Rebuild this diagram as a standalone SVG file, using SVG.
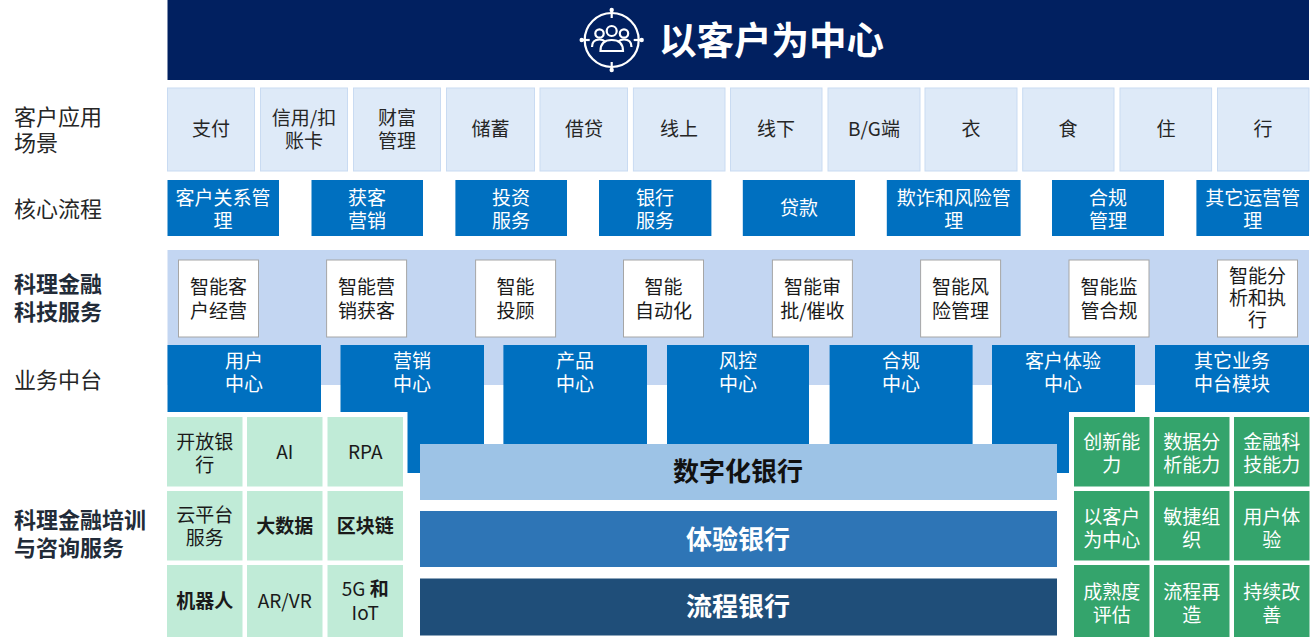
<svg xmlns="http://www.w3.org/2000/svg" width="1314" height="641" viewBox="0 0 1314 641">
<style>
text{font-family:"Noto Sans CJK SC","Noto Sans",sans-serif;text-anchor:middle}
.lbl{font-size:22px;fill:#262626;text-anchor:start}
.lblb{font-size:22px;font-weight:bold;fill:#222B38;text-anchor:start}
.scn{fill:#DEEAF8;stroke:#C9DBF2;stroke-width:1}
.scnt{font-size:19px;fill:#262626}
.core{fill:#0070C0}
.wt{font-size:19px;fill:#FFFFFF}
.fin{fill:#FFFFFF;stroke:#A6A6A6;stroke-width:1}
.fint{font-size:19px;fill:#1A1A1A}
.lg{fill:#C0EBD7}
.lgt{font-size:19px;fill:#1A1A1A}
.dg{fill:#34A46C}
.bar{font-size:26px;font-weight:bold}
.ic{fill:none;stroke:#FFFFFF;stroke-width:2.2}
</style>

<g id="header">
<rect x="167.5" y="0" width="1141.5" height="80" fill="#012060"/>
<g id="icon">
<circle class="ic" cx="611.7" cy="40" r="27"/>
<line class="ic" x1="611.7" y1="9" x2="611.7" y2="18"/>
<line class="ic" x1="611.7" y1="62" x2="611.7" y2="71"/>
<line class="ic" x1="580.7" y1="40" x2="589.7" y2="40"/>
<line class="ic" x1="633.7" y1="40" x2="642.7" y2="40"/>
<circle cx="611.7" cy="10" r="2.2" fill="#FFFFFF"/>
<circle cx="611.7" cy="70" r="2.2" fill="#FFFFFF"/>
<circle cx="581.7" cy="40" r="2.2" fill="#FFFFFF"/>
<circle cx="641.7" cy="40" r="2.2" fill="#FFFFFF"/>
<circle class="ic" cx="611.7" cy="31" r="5"/>
<circle class="ic" cx="599.5" cy="33.5" r="4.2"/>
<circle class="ic" cx="624" cy="33.5" r="4.2"/>
<path class="ic" d="M600.5 51 Q600.5 40 611.7 40 Q623 40 623 51 Z"/>
<path class="ic" d="M592 47 Q592 39.5 599.5 39.5 Q603 39.5 605 41.5"/>
<path class="ic" d="M631.5 47 Q631.5 39.5 624 39.5 Q620.5 39.5 618.5 41.5"/>
</g>
<text x="771.5" y="54" style="font-size:37.5px;font-weight:bold;fill:#FFFFFF">以客户为中心</text>
</g>

<g id="left-labels">
<text class="lbl" x="14" y="125">客户应用</text>
<text class="lbl" x="14" y="151">场景</text>
<text class="lbl" x="14" y="217">核心流程</text>
<text class="lblb" x="14" y="292">科理金融</text>
<text class="lblb" x="14" y="320">科技服务</text>
<text class="lbl" x="14" y="388">业务中台</text>
<text class="lblb" x="14" y="528">科理金融培训</text>
<text class="lblb" x="14" y="556">与咨询服务</text>
</g>

<g id="scenarios">
<g id="s1"><rect class="scn" x="167.5" y="88" width="87" height="83"/><text class="scnt" x="211" y="136">支付</text></g>
<g id="s2"><rect class="scn" x="260.5" y="88" width="87" height="83"/><text class="scnt" x="304" y="125">信用/扣</text><text class="scnt" x="304" y="148">账卡</text></g>
<g id="s3"><rect class="scn" x="353.5" y="88" width="87" height="83"/><text class="scnt" x="397" y="125">财富</text><text class="scnt" x="397" y="148">管理</text></g>
<g id="s4"><rect class="scn" x="446.5" y="88" width="88" height="83"/><text class="scnt" x="490.5" y="136">储蓄</text></g>
<g id="s5"><rect class="scn" x="540" y="88" width="87.5" height="83"/><text class="scnt" x="584" y="136">借贷</text></g>
<g id="s6"><rect class="scn" x="633.4" y="88" width="91.6" height="83"/><text class="scnt" x="679" y="136">线上</text></g>
<g id="s7"><rect class="scn" x="730.5" y="88" width="91.5" height="83"/><text class="scnt" x="776" y="136">线下</text></g>
<g id="s8"><rect class="scn" x="828" y="88" width="92" height="83"/><text class="scnt" x="874" y="136">B/G端</text></g>
<g id="s9"><rect class="scn" x="925" y="88" width="92" height="83"/><text class="scnt" x="971" y="136">衣</text></g>
<g id="s10"><rect class="scn" x="1022.7" y="88" width="91.3" height="83"/><text class="scnt" x="1068" y="136">食</text></g>
<g id="s11"><rect class="scn" x="1120" y="88" width="91.6" height="83"/><text class="scnt" x="1166" y="136">住</text></g>
<g id="s12"><rect class="scn" x="1217.5" y="88" width="91.5" height="83"/><text class="scnt" x="1263" y="136">行</text></g>
</g>

<g id="core-process">
<g id="c1"><rect class="core" x="167.5" y="180" width="111.5" height="56"/><text class="wt" x="223" y="205">客户关系管</text><text class="wt" x="223" y="228">理</text></g>
<g id="c2"><rect class="core" x="311.5" y="180" width="111.5" height="56"/><text class="wt" x="367" y="205">获客</text><text class="wt" x="367" y="228">营销</text></g>
<g id="c3"><rect class="core" x="455.4" y="180" width="111.6" height="56"/><text class="wt" x="511" y="205">投资</text><text class="wt" x="511" y="228">服务</text></g>
<g id="c4"><rect class="core" x="599" y="180" width="112.4" height="56"/><text class="wt" x="655" y="205">银行</text><text class="wt" x="655" y="228">服务</text></g>
<g id="c5"><rect class="core" x="742.8" y="180" width="112.2" height="56"/><text class="wt" x="799" y="215">贷款</text></g>
<g id="c6"><rect class="core" x="886.8" y="180" width="133.8" height="56"/><text class="wt" x="953.7" y="205">欺诈和风险管</text><text class="wt" x="953.7" y="228">理</text></g>
<g id="c7"><rect class="core" x="1052" y="180" width="112" height="56"/><text class="wt" x="1108" y="205">合规</text><text class="wt" x="1108" y="228">管理</text></g>
<g id="c8"><rect class="core" x="1196.4" y="180" width="112.6" height="56"/><text class="wt" x="1252.7" y="205">其它运营管</text><text class="wt" x="1252.7" y="228">理</text></g>
</g>

<rect id="fintech-band" x="167.5" y="250" width="1141.5" height="135" fill="#C3D6F2"/>

<g id="fintech">
<g id="f1"><rect class="fin" x="178.5" y="260" width="80" height="77"/><text class="fint" x="218.5" y="294">智能客</text><text class="fint" x="218.5" y="318">户经营</text></g>
<g id="f2"><rect class="fin" x="326.6" y="260" width="80" height="77"/><text class="fint" x="366.6" y="294">智能营</text><text class="fint" x="366.6" y="318">销获客</text></g>
<g id="f3"><rect class="fin" x="475.6" y="260" width="80" height="77"/><text class="fint" x="515.6" y="294">智能</text><text class="fint" x="515.6" y="318">投顾</text></g>
<g id="f4"><rect class="fin" x="623.5" y="260" width="80" height="77"/><text class="fint" x="663.5" y="294">智能</text><text class="fint" x="663.5" y="318">自动化</text></g>
<g id="f5"><rect class="fin" x="772.4" y="260" width="80" height="77"/><text class="fint" x="812.4" y="294">智能审</text><text class="fint" x="812.4" y="318">批/催收</text></g>
<g id="f6"><rect class="fin" x="920.6" y="260" width="80" height="77"/><text class="fint" x="960.6" y="294">智能风</text><text class="fint" x="960.6" y="318">险管理</text></g>
<g id="f7"><rect class="fin" x="1069" y="260" width="80" height="77"/><text class="fint" x="1109" y="294">智能监</text><text class="fint" x="1109" y="318">管合规</text></g>
<g id="f8"><rect class="fin" x="1217.5" y="260" width="80" height="77"/><text class="fint" x="1257.5" y="283">智能分</text><text class="fint" x="1257.5" y="305">析和执</text><text class="fint" x="1257.5" y="327">行</text></g>
</g>

<g id="middle-platform">
<g id="m1"><rect class="core" x="167.5" y="345" width="153.5" height="67"/><text class="wt" x="244" y="368">用户</text><text class="wt" x="244" y="391">中心</text></g>
<g id="m2"><rect class="core" x="340.5" y="345" width="143.5" height="128"/><text class="wt" x="412" y="368">营销</text><text class="wt" x="412" y="391">中心</text></g>
<g id="m3"><rect class="core" x="503.4" y="345" width="143.6" height="128"/><text class="wt" x="575" y="368">产品</text><text class="wt" x="575" y="391">中心</text></g>
<g id="m4"><rect class="core" x="667" y="345" width="142" height="128"/><text class="wt" x="738" y="368">风控</text><text class="wt" x="738" y="391">中心</text></g>
<g id="m5"><rect class="core" x="829.6" y="345" width="143" height="128"/><text class="wt" x="901" y="368">合规</text><text class="wt" x="901" y="391">中心</text></g>
<g id="m6"><rect class="core" x="992" y="345" width="143" height="128"/><text class="wt" x="1063" y="368">客户体验</text><text class="wt" x="1063" y="391">中心</text></g>
<g id="m7"><rect class="core" x="1155" y="345" width="154" height="67"/><text class="wt" x="1232" y="368">其它业务</text><text class="wt" x="1232" y="391">中台模块</text></g>
</g>

<rect x="165" y="412" width="242.5" height="229" fill="#FFFFFF"/>
<rect x="1069" y="412" width="245" height="229" fill="#FFFFFF"/>

<g id="bars">
<g id="b1"><rect x="420" y="444" width="637" height="56" fill="#9DC3E6"/><text class="bar" x="738" y="481" fill="#111111">数字化银行</text></g>
<g id="b2"><rect x="420" y="511" width="637" height="56" fill="#2E75B6"/><text class="bar" x="738" y="549" fill="#FFFFFF">体验银行</text></g>
<g id="b3"><rect x="420" y="578.5" width="637" height="57" fill="#1F4E79"/><text class="bar" x="738" y="616" fill="#FFFFFF">流程银行</text></g>
</g>

<g id="tech-grid">
<g id="t1"><rect class="lg" x="167" y="417" width="75.5" height="69.5"/><text class="lgt" x="204.7" y="449">开放银</text><text class="lgt" x="204.7" y="472">行</text></g>
<g id="t2"><rect class="lg" x="247" y="417" width="75.5" height="69.5"/><text class="lgt" x="284.7" y="459">AI</text></g>
<g id="t3"><rect class="lg" x="327.5" y="417" width="75.5" height="69.5"/><text class="lgt" x="365.2" y="459">RPA</text></g>
<g id="t4"><rect class="lg" x="167" y="491" width="75.5" height="69.5"/><text class="lgt" x="204.7" y="522">云平台</text><text class="lgt" x="204.7" y="545">服务</text></g>
<g id="t5"><rect class="lg" x="247" y="491" width="75.5" height="69.5"/><text class="lgt" x="284.7" y="533" font-weight="bold">大数据</text></g>
<g id="t6"><rect class="lg" x="327.5" y="491" width="75.5" height="69.5"/><text class="lgt" x="365.2" y="533" font-weight="bold">区块链</text></g>
<g id="t7"><rect class="lg" x="167" y="565" width="75.5" height="72"/><text class="lgt" x="204.7" y="608" font-weight="bold">机器人</text></g>
<g id="t8"><rect class="lg" x="247" y="565" width="75.5" height="72"/><text class="lgt" x="284.7" y="608">AR/VR</text></g>
<g id="t9"><rect class="lg" x="327.5" y="565" width="75.5" height="72"/><text class="lgt" x="365.2" y="596">5G <tspan font-weight="bold">和</tspan></text><text class="lgt" x="365.2" y="620">IoT</text></g>
</g>

<g id="capability-grid">
<g id="k1"><rect class="dg" x="1074" y="417" width="75.5" height="69.5"/><text class="wt" x="1111.7" y="449">创新能</text><text class="wt" x="1111.7" y="472">力</text></g>
<g id="k2"><rect class="dg" x="1154" y="417" width="75.5" height="69.5"/><text class="wt" x="1191.7" y="449">数据分</text><text class="wt" x="1191.7" y="472">析能力</text></g>
<g id="k3"><rect class="dg" x="1234" y="417" width="75.5" height="69.5"/><text class="wt" x="1271.7" y="449">金融科</text><text class="wt" x="1271.7" y="472">技能力</text></g>
<g id="k4"><rect class="dg" x="1074" y="491" width="75.5" height="69.5"/><text class="wt" x="1111.7" y="524">以客户</text><text class="wt" x="1111.7" y="547">为中心</text></g>
<g id="k5"><rect class="dg" x="1154" y="491" width="75.5" height="69.5"/><text class="wt" x="1191.7" y="524">敏捷组</text><text class="wt" x="1191.7" y="547">织</text></g>
<g id="k6"><rect class="dg" x="1234" y="491" width="75.5" height="69.5"/><text class="wt" x="1271.7" y="524">用户体</text><text class="wt" x="1271.7" y="547">验</text></g>
<g id="k7"><rect class="dg" x="1074" y="565" width="75.5" height="72"/><text class="wt" x="1111.7" y="599">成熟度</text><text class="wt" x="1111.7" y="622">评估</text></g>
<g id="k8"><rect class="dg" x="1154" y="565" width="75.5" height="72"/><text class="wt" x="1191.7" y="599">流程再</text><text class="wt" x="1191.7" y="622">造</text></g>
<g id="k9"><rect class="dg" x="1234" y="565" width="75.5" height="72"/><text class="wt" x="1271.7" y="599">持续改</text><text class="wt" x="1271.7" y="622">善</text></g>
</g>

<g id="connectors"></g>
</svg>
